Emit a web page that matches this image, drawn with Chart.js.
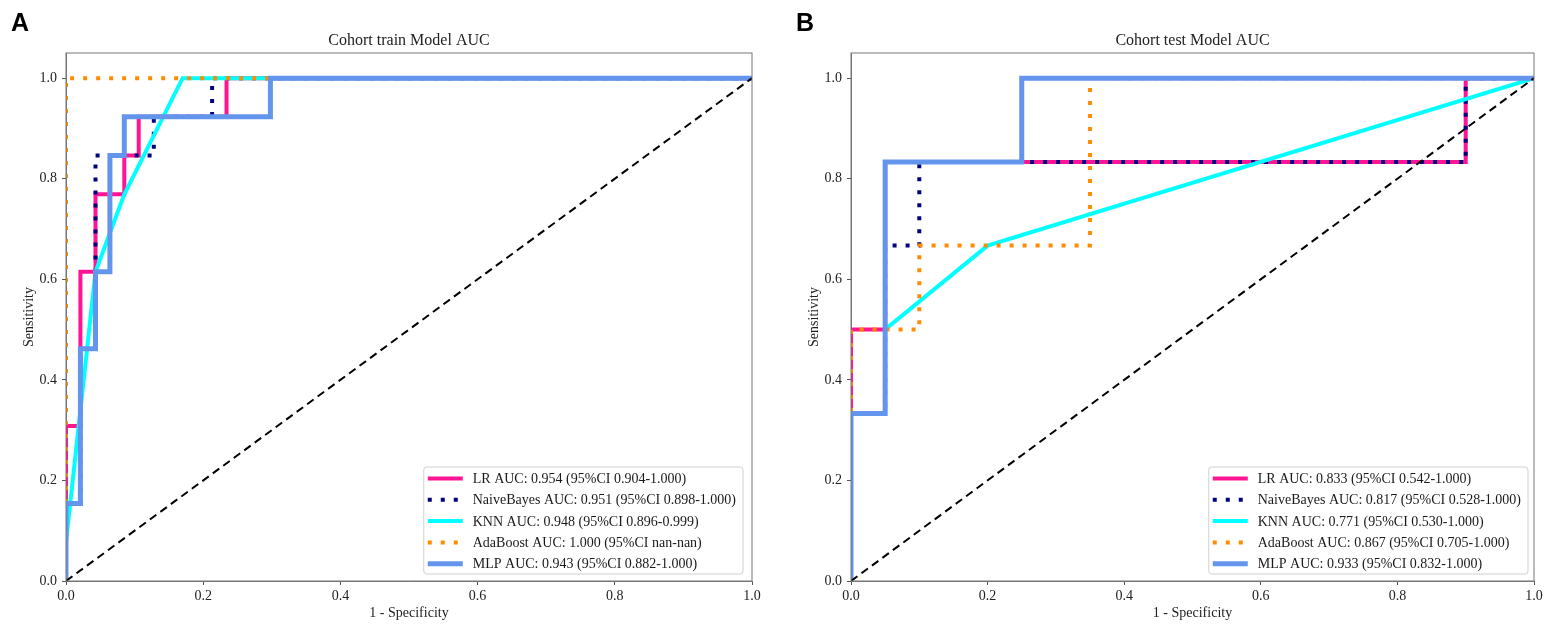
<!DOCTYPE html>
<html>
<head>
<meta charset="utf-8">
<script src="https://cdn.jsdelivr.net/npm/chart.js"></script>
<style>
  body { margin: 0; background: #fff; }
  #wrap { position: relative; width: 1556px; height: 634px; }
  canvas { position: absolute; top: 0; }
</style>
</head>
<body>
<div id="wrap">
  <canvas id="chartA" width="778" height="634" style="left:0px"></canvas>
  <canvas id="chartB" width="778" height="634" style="left:778px"></canvas>
</div>
<script>
// axis ticks
var tickValues = [0, 0.2, 0.4, 0.6, 0.8, 1.0];
var modelNames = ["LR", "NaiveBayes", "KNN", "AdaBoost", "MLP"];

// train cohort ROC points
var trainLR_fpr = [0, 0, 0.021, 0.021, 0.043, 0.043, 0.085, 0.085, 0.106, 0.106, 0.234, 0.234, 1];
var trainLR_tpr = [0, 0.308, 0.308, 0.615, 0.615, 0.769, 0.769, 0.846, 0.846, 0.923, 0.923, 1, 1];
var trainNB_fpr = [0, 0, 0.021, 0.021, 0.043, 0.043, 0.128, 0.128, 0.213, 0.213, 1];
var trainNB_tpr = [0, 0.154, 0.154, 0.462, 0.462, 0.846, 0.846, 0.923, 0.923, 1, 1];
var trainKNN_fpr = [0, 0, 0.043, 0.085, 0.170, 1];
var trainKNN_tpr = [0, 0.077, 0.615, 0.769, 1, 1];
var trainAda_fpr = [0, 0, 1];
var trainAda_tpr = [0, 1, 1];
var trainMLP_fpr = [0, 0, 0.021, 0.021, 0.043, 0.043, 0.064, 0.064, 0.085, 0.085, 0.298, 0.298, 1];
var trainMLP_tpr = [0, 0.154, 0.154, 0.462, 0.462, 0.615, 0.615, 0.846, 0.846, 0.923, 0.923, 1, 1];
var trainLabels = [
  "LR AUC: 0.954 (95%CI 0.904-1.000)",
  "NaiveBayes AUC: 0.951 (95%CI 0.898-1.000)",
  "KNN AUC: 0.948 (95%CI 0.896-0.999)",
  "AdaBoost AUC: 1.000 (95%CI nan-nan)",
  "MLP AUC: 0.943 (95%CI 0.882-1.000)"
];

// test cohort ROC points
var testLR_fpr = [0, 0, 0.05, 0.05, 0.9, 0.9, 1];
var testLR_tpr = [0, 0.5, 0.5, 0.833, 0.833, 1, 1];
var testNB_fpr = [0, 0, 0.05, 0.05, 0.1, 0.1, 0.9, 0.9, 1];
var testNB_tpr = [0, 0.333, 0.333, 0.667, 0.667, 0.833, 0.833, 1, 1];
var testKNN_fpr = [0, 0, 0.05, 0.05, 0.2, 1];
var testKNN_tpr = [0, 0.333, 0.333, 0.5, 0.667, 1];
var testAda_fpr = [0, 0, 0.1, 0.1, 0.35, 0.35, 1];
var testAda_tpr = [0, 0.5, 0.5, 0.667, 0.667, 1, 1];
var testMLP_fpr = [0, 0, 0.05, 0.05, 0.25, 0.25, 1];
var testMLP_tpr = [0, 0.333, 0.333, 0.833, 0.833, 1, 1];
var testLabels = [
  "LR AUC: 0.833 (95%CI 0.542-1.000)",
  "NaiveBayes AUC: 0.817 (95%CI 0.528-1.000)",
  "KNN AUC: 0.771 (95%CI 0.530-1.000)",
  "AdaBoost AUC: 0.867 (95%CI 0.705-1.000)",
  "MLP AUC: 0.933 (95%CI 0.832-1.000)"
];

var diagX = [0, 1];
var diagY = [0, 1];

var serif = "'Liberation Serif', 'Times New Roman', serif";
var lineColors = ["#ff1493", "#000080", "#00ffff", "#ff8c00", "#6495ed"];
var lineWidths = [4, 4, 4, 4, 5];
var lineDashes = [[], [4, 9], [], [4, 9], []];

function toPoints(xs, ys) {
  return xs.map(function (x, i) { return { x: x, y: ys[i] }; });
}

function makeDatasets(curves, labels) {
  var sets = curves.map(function (c, i) {
    return {
      label: labels[i],
      data: toPoints(c[0], c[1]),
      showLine: true,
      borderColor: lineColors[i],
      backgroundColor: lineColors[i],
      borderWidth: lineWidths[i],
      borderDash: lineDashes[i],
      borderCapStyle: "butt",
      pointRadius: 0,
      tension: 0,
      order: 5 - i
    };
  });
  sets.push({
    label: "diag",
    data: toPoints(diagX, diagY),
    showLine: true,
    borderColor: "#000",
    borderWidth: 2,
    borderDash: [8, 5],
    pointRadius: 0,
    order: 0
  });
  return sets;
}

// title, panel letter, frame and legend
var panelPlugin = {
  id: "panelPlugin",
  afterDraw: function (chart) {
    var ctx = chart.ctx;
    var a = chart.chartArea;
    var o = chart.options.plugins.panelPlugin;
    ctx.save();
    // frame top/right
    ctx.strokeStyle = "#777";
    ctx.lineWidth = 1;
    ctx.strokeRect(a.left, a.top, a.right - a.left, a.bottom - a.top);
    // title
    ctx.fillStyle = "#222";
    ctx.font = "16px " + serif;
    ctx.textAlign = "center";
    ctx.textBaseline = "middle";
    ctx.fillText(o.title, (a.left + a.right) / 2, 41);
    // panel letter
    ctx.fillStyle = "#000";
    ctx.font = "bold 25px 'Liberation Sans', Arial, sans-serif";
    ctx.textAlign = "left";
    ctx.fillText(o.letter, o.letterX, 24);
    // legend
    var sets = chart.data.datasets.slice(0, 5);
    ctx.font = "14px " + serif;
    var maxW = 0;
    sets.forEach(function (d) { maxW = Math.max(maxW, ctx.measureText(d.label).width); });
    var w = 49 + maxW + 7;
    var h = 107;
    var bx = a.right - o.legendGap - w;
    var by = a.bottom - 7 - h;
    ctx.fillStyle = "rgba(255,255,255,0.85)";
    ctx.strokeStyle = "#d0d0d0";
    ctx.beginPath();
    ctx.roundRect(bx, by, w, h, 3);
    ctx.fill();
    ctx.stroke();
    sets.forEach(function (d, i) {
      var y = by + 11.5 + i * 21.3;
      ctx.strokeStyle = d.borderColor;
      ctx.lineWidth = d.borderWidth;
      ctx.setLineDash(d.borderDash);
      ctx.lineCap = "butt";
      ctx.beginPath();
      ctx.moveTo(bx + 4, y);
      ctx.lineTo(bx + 39, y);
      ctx.stroke();
      ctx.setLineDash([]);
      ctx.fillStyle = "#1a1a1a";
      ctx.textAlign = "left";
      ctx.textBaseline = "middle";
      ctx.fillText(d.label, bx + 49, y + 1);
    });
    ctx.restore();
  }
};

function makeChart(id, curves, labels, opts) {
  return new Chart(document.getElementById(id), {
    type: "scatter",
    data: { datasets: makeDatasets(curves, labels) },
    plugins: [panelPlugin],
    options: {
      responsive: false,
      animation: false,
      events: [],
      layout: { padding: { left: 0, right: opts.padRight, top: 53, bottom: 0 } },
      plugins: {
        legend: { display: false },
        tooltip: { enabled: false },
        panelPlugin: { title: opts.title, letter: opts.letter, letterX: opts.letterX, legendGap: opts.legendGap }
      },
      scales: {
        x: {
          type: "linear", min: 0, max: 1,
          afterFit: function (s) { s.height = 53; },
          afterBuildTicks: function (s) { s.ticks = tickValues.map(function (v) { return { value: v }; }); },
          grid: { drawOnChartArea: false, drawTicks: true, tickLength: 4, color: "#555" },
          border: { display: true, color: "#777", width: 1 },
          ticks: {
            padding: 3, color: "#222", font: { family: serif, size: 14 },
            maxRotation: 0,
            callback: function (v) { return Number(v).toFixed(1); }
          },
          title: {
            display: true, text: "1 - Specificity", color: "#222",
            font: { family: serif, size: 14 }, padding: { top: 0, bottom: 12.6 }
          }
        },
        y: {
          type: "linear", min: 0, max: 1.05,
          afterFit: function (s) { s.width = opts.yWidth; },
          afterBuildTicks: function (s) { s.ticks = tickValues.map(function (v) { return { value: v }; }); },
          grid: { drawOnChartArea: false, drawTicks: true, tickLength: 4, color: "#555" },
          border: { display: true, color: "#777", width: 1 },
          ticks: {
            padding: 5, color: "#222", font: { family: serif, size: 14 },
            callback: function (v) { return Number(v).toFixed(1); }
          },
          title: {
            display: true, text: "Sensitivity", color: "#222",
            font: { family: serif, size: 14 }, padding: { top: opts.yTitlePad, bottom: 0 }
          }
        }
      }
    }
  });
}

makeChart("chartA", [
  [trainLR_fpr, trainLR_tpr],
  [trainNB_fpr, trainNB_tpr],
  [trainKNN_fpr, trainKNN_tpr],
  [trainAda_fpr, trainAda_tpr],
  [trainMLP_fpr, trainMLP_tpr]
], trainLabels, { title: "Cohort train Model AUC", letter: "A", letterX: 11, padRight: 26, yWidth: 66, yTitlePad: 20.6, legendGap: 9 });

makeChart("chartB", [
  [testLR_fpr, testLR_tpr],
  [testNB_fpr, testNB_tpr],
  [testKNN_fpr, testKNN_tpr],
  [testAda_fpr, testAda_tpr],
  [testMLP_fpr, testMLP_tpr]
], testLabels, { title: "Cohort test Model AUC", letter: "B", letterX: 18, padRight: 22, yWidth: 73, yTitlePad: 27.6, legendGap: 6 });
</script>
</body>
</html>
